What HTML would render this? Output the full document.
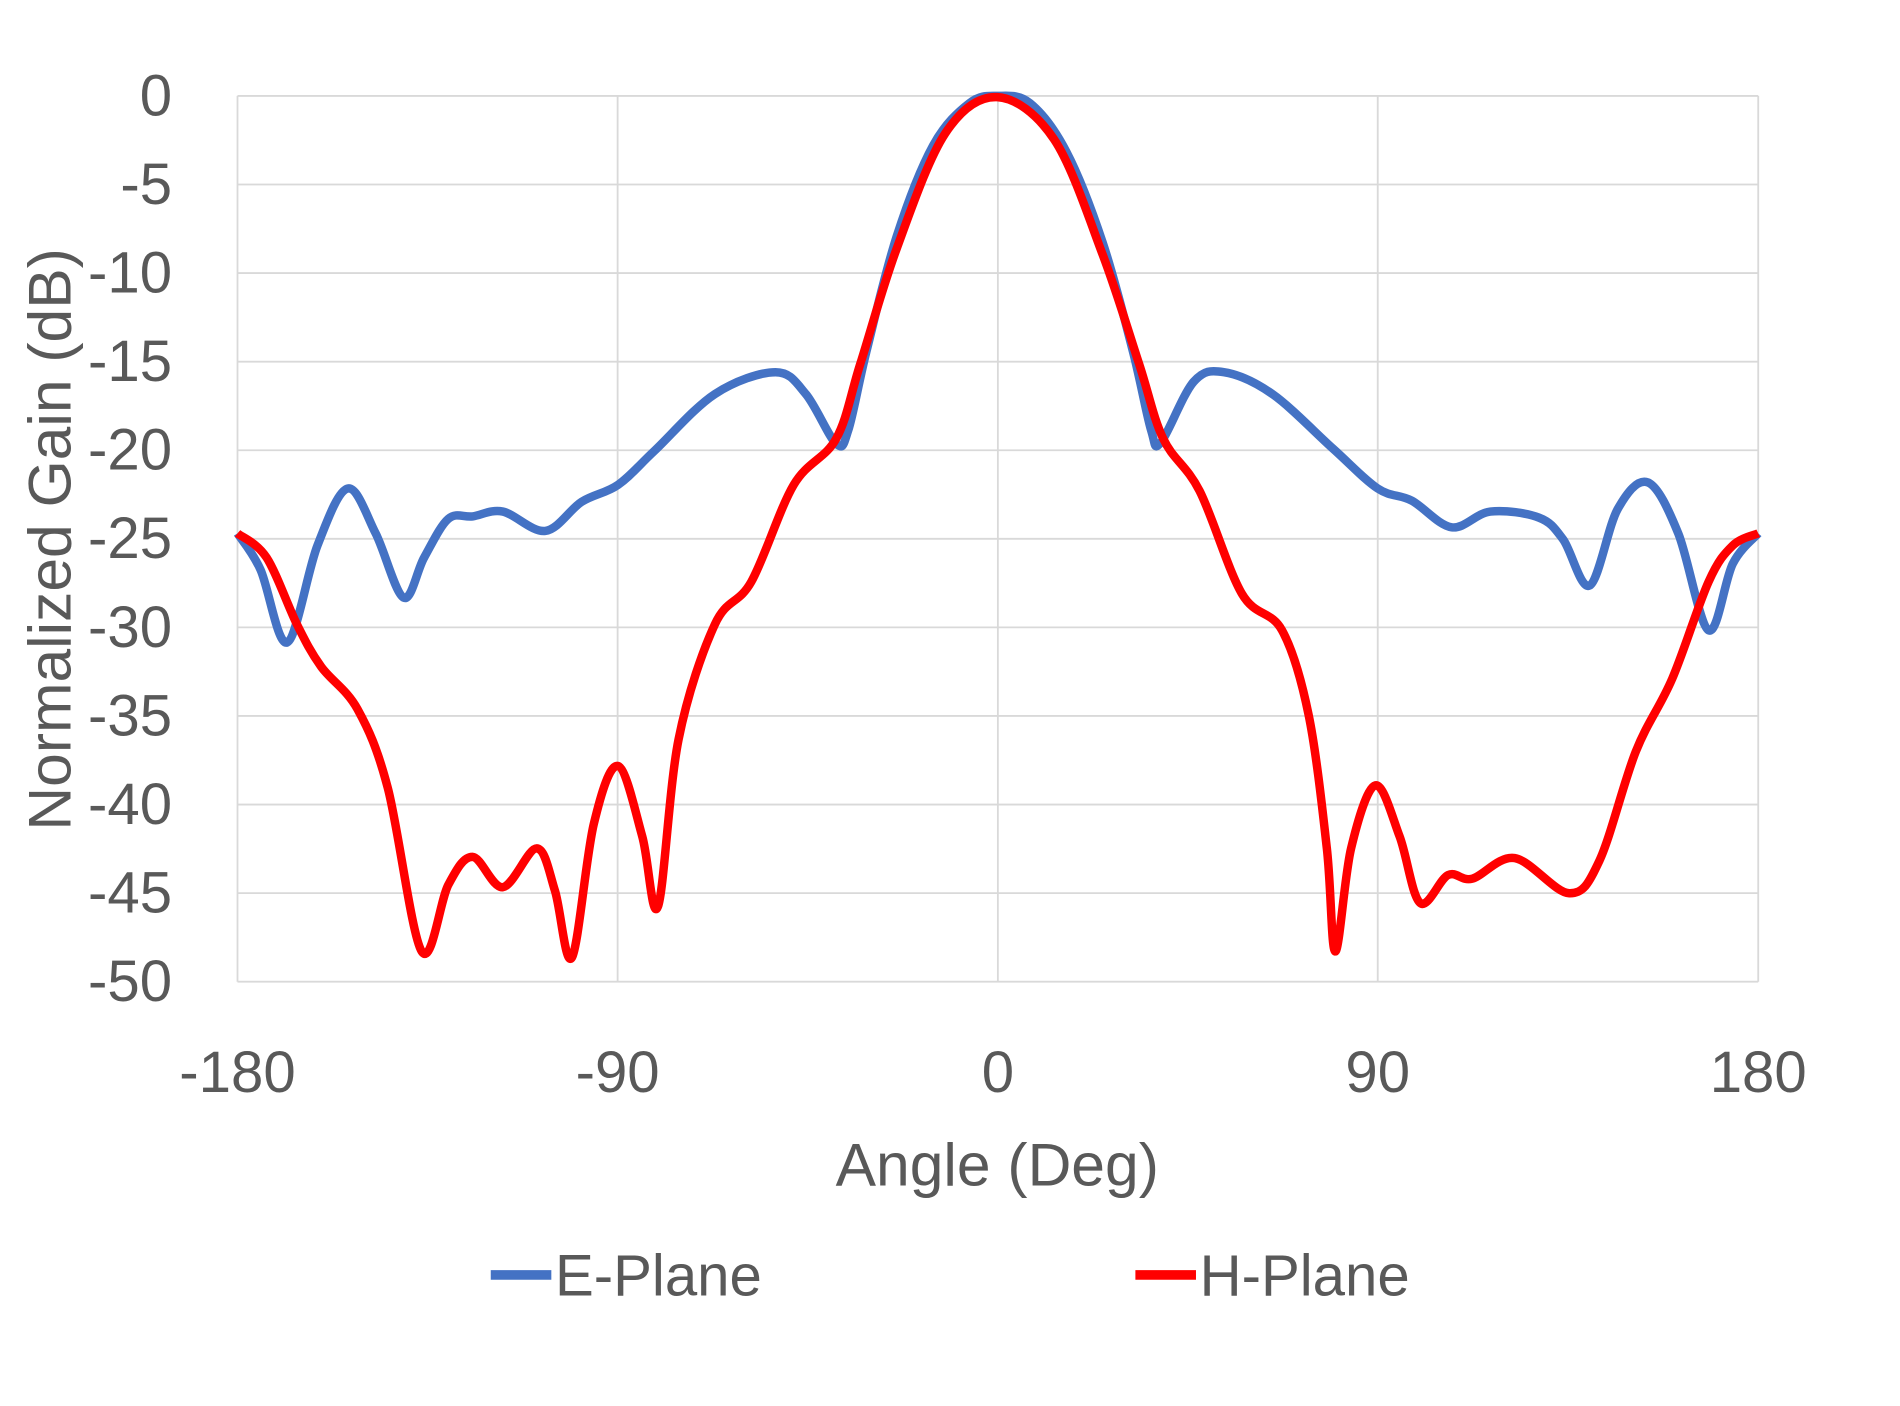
<!DOCTYPE html>
<html><head><meta charset="utf-8"><style>html,body{margin:0;padding:0;background:#fff}svg{display:block}</style></head>
<body>
<svg id="s" width="1900" height="1406" viewBox="0 0 1568 1160" xmlns="http://www.w3.org/2000/svg" font-family="Liberation Sans, sans-serif" fill="#595959">
<g id="grid" stroke="#d9d9d9" stroke-width="1.5"></g>
<g id="yl" font-size="48" text-anchor="end"></g>
<g font-size="48" text-anchor="middle">
<text x="196" y="901">-180</text><text x="509.7" y="901">-90</text><text x="823.5" y="901">0</text><text x="1137" y="901">90</text><text x="1451" y="901">180</text>
</g>
<text x="823" y="978" font-size="50" text-anchor="middle">Angle (Deg)</text>
<text transform="translate(58,445) rotate(-90)" font-size="50" text-anchor="middle">Normalized Gain (dB)</text>
<path id="e" fill="none" stroke="#4472c4" stroke-width="7" stroke-linejoin="round"/>
<path id="h" fill="none" stroke="#ff0000" stroke-width="7" stroke-linejoin="round"/>
<line x1="405" y1="1052" x2="455" y2="1052" stroke="#4472c4" stroke-width="8"/>
<text x="458" y="1069" font-size="48">E-Plane</text>
<line x1="937" y1="1052" x2="987" y2="1052" stroke="#ff0000" stroke-width="8"/>
<text x="990" y="1069" font-size="48">H-Plane</text>
</svg>
<script>
var g=document.getElementById('grid'),yl=document.getElementById('yl'),ns='http://www.w3.org/2000/svg';
for(var i=0;i<=10;i++){var y=79+i*73.1;var l=document.createElementNS(ns,'line');l.setAttribute('x1',196);l.setAttribute('x2',1451);l.setAttribute('y1',y);l.setAttribute('y2',y);g.appendChild(l);
var t=document.createElementNS(ns,'text');t.setAttribute('x',142);t.setAttribute('y',y+16);t.textContent=i?('-'+i*5):'0';yl.appendChild(t);}
[196,509.7,823.5,1137,1451].forEach(function(x){var l=document.createElementNS(ns,'line');l.setAttribute('x1',x);l.setAttribute('x2',x);l.setAttribute('y1',79);l.setAttribute('y2',810);g.appendChild(l);});
function cr(p){var d='M'+p[0][0]+','+p[0][1];for(var i=0;i<p.length-1;i++){var p0=p[i-1]||p[i],p1=p[i],p2=p[i+1],p3=p[i+2]||p2;
d+=' C'+(p1[0]+(p2[0]-p0[0])/6)+','+(p1[1]+(p2[1]-p0[1])/6)+' '+(p2[0]-(p3[0]-p1[0])/6)+','+(p2[1]-(p3[1]-p1[1])/6)+' '+p2[0]+','+p2[1];}return d;}
var E=[[196,440],[215,470],[237,530],[262,450],[287,403],[310,440],[333,493],[350,460],[370,428],[390,426],[415,422],[450,438],[480,414],[510,400],[540,372],[590,325],[640,307],[665,325],[690,366],[700,355],[715,290],[740,195],[770,120],[800,85],[823,79],[850,85],[880,125],[910,200],[935,290],[950,355],[958,365],[985,315],[1010,307],[1050,325],[1100,370],[1137,403],[1165,413],[1198,435],[1230,422],[1270,427],[1290,445],[1312,483],[1335,420],[1360,398],[1385,440],[1410,520],[1430,465],[1451,440]];
var H=[[196,440],[220,460],[245,515],[265,550],[295,585],[320,650],[348,785],[370,730],[390,707],[415,732],[443,700],[458,735],[472,790],[490,680],[510,632],[530,690],[543,748],[560,610],[590,515],[620,480],[655,400],[690,362],[710,300],[740,205],[780,110],[823,80],[870,115],[910,210],[940,300],[960,362],[990,405],[1025,490],[1058,520],[1080,590],[1095,700],[1102,785],[1115,700],[1135,648],[1155,690],[1172,745],[1195,722],[1215,725],[1250,708],[1295,737],[1320,710],[1350,620],[1380,560],[1410,480],[1430,450],[1451,440]];
document.getElementById('e').setAttribute('d',cr(E));document.getElementById('h').setAttribute('d',cr(H));
</script>
</body></html>
